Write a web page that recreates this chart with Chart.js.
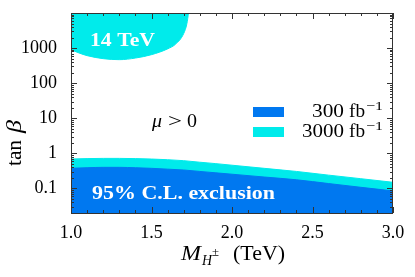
<!DOCTYPE html>
<html>
<head>
<meta charset="utf-8">
<script src="https://cdn.jsdelivr.net/npm/chart.js@4.4.0/dist/chart.umd.min.js"></script>
<style>
  html, body { margin: 0; padding: 0; background: #fff; }
</style>
</head>
<body>
<canvas id="myChart" width="415" height="277"></canvas>
<script>
/*  H+ exclusion reach  */

const massPoints = [1.0, 1.1, 1.2, 1.3, 1.4, 1.5, 1.6, 1.7, 1.8, 1.9, 2.0, 2.2, 2.4, 2.6, 2.8, 3.0];
const limit300 = [0.376, 0.39, 0.40, 0.40, 0.39, 0.375, 0.355, 0.336, 0.306, 0.279, 0.255, 0.212, 0.177, 0.138, 0.108, 0.085];
const limit3000 = [0.69, 0.71, 0.72, 0.72, 0.71, 0.69, 0.66, 0.62, 0.56, 0.51, 0.46, 0.375, 0.306, 0.24, 0.19, 0.15];
const highMass = [1.0, 1.05, 1.1, 1.2, 1.3, 1.4, 1.5, 1.6, 1.65, 1.7, 1.72, 1.73];
const highTanb = [900, 725, 610, 500, 468, 520, 650, 950, 1300, 2600, 5000, 10000];
const xTicks = [1.0, 1.5, 2.0, 2.5, 3.0];
const yTicks = [0.1, 1, 10, 100, 1000];

const blue = 'rgb(0, 120, 240)';
const cyan = 'rgb(0, 235, 235)';
const serif = '"Liberation Serif", "DejaVu Serif", serif';

const toPoints = (xs, ys) => xs.map((x, i) => ({ x: x, y: ys[i] }));

// draw text squeezed/stretched to a given width
function fitText(ctx, text, x, y, width) {
  const w = ctx.measureText(text).width;
  ctx.save();
  ctx.translate(x, y);
  ctx.scale(width / w, 1);
  ctx.textAlign = 'left';
  ctx.fillText(text, 0, 0);
  ctx.restore();
}

const frameAndTicks = {
  id: 'frameAndTicks',
  afterDatasetsDraw(chart) {
    const ctx = chart.ctx;
    const a = chart.chartArea;
    const xs = chart.scales.x, ys = chart.scales.y;
    ctx.save();
    ctx.strokeStyle = '#333';
    ctx.lineWidth = 1;
    ctx.beginPath();
    // x ticks, every 0.1, major every 0.5
    for (let i = 0; i <= 20; i++) {
      const v = 1 + i * 0.1;
      const px = Math.round(xs.getPixelForValue(v)) + 0.5;
      const len = (i % 5 === 0) ? 6 : 3;
      ctx.moveTo(px, a.bottom); ctx.lineTo(px, a.bottom - len);
      ctx.moveTo(px, a.top); ctx.lineTo(px, a.top + len);
    }
    // y ticks, decades and minors
    for (let d = -2; d <= 4; d++) {
      for (let k = 1; k <= 9; k++) {
        const v = k * Math.pow(10, d);
        if (v < 0.02 || v > 10000) continue;
        const py = Math.round(ys.getPixelForValue(v)) + 0.5;
        const len = (k === 1) ? 6 : 3;
        ctx.moveTo(a.left, py); ctx.lineTo(a.left + len, py);
        ctx.moveTo(a.right, py); ctx.lineTo(a.right - len, py);
      }
    }
    ctx.stroke();
    ctx.strokeRect(a.left + 0.5, a.top + 0.5, a.right - a.left - 1, a.bottom - a.top);
    ctx.restore();
  }
};

const labels = {
  id: 'labels',
  afterDraw(chart) {
    const ctx = chart.ctx;
    ctx.save();
    ctx.textBaseline = 'alphabetic';
    ctx.textAlign = 'left';

    // labels inside the plot
    ctx.fillStyle = '#fff';
    ctx.font = 'bold 18px ' + serif;
    fitText(ctx, '14 TeV', 90, 46, 65);
    ctx.font = 'bold 19px ' + serif;
    fitText(ctx, '95% C.L. exclusion', 92, 199, 183);

    ctx.fillStyle = '#000';
    ctx.font = 'italic 18px ' + serif;
    fitText(ctx, '\u03bc', 152, 127, 10);
    ctx.font = '18px ' + serif;
    fitText(ctx, '>', 168, 127, 14);
    fitText(ctx, '0', 187, 127, 10);

    // legend
    ctx.fillStyle = blue;
    ctx.fillRect(253, 107, 31, 10);
    ctx.fillStyle = cyan;
    ctx.fillRect(253, 127, 31, 10);
    ctx.fillStyle = '#000';
    [['300', 312, 117], ['3000', 302, 137]].forEach(([t, x, y]) => {
      ctx.font = '18px ' + serif;
      fitText(ctx, t, x, y, 365 - x - 21);
      fitText(ctx, 'fb', 349, y, 16);
      ctx.font = '13px ' + serif;
      fitText(ctx, '\u22121', 366, y - 7, 17);
    });

    // x title: M_{H±} (TeV)
    ctx.font = 'italic 20px ' + serif;
    fitText(ctx, 'M', 181, 260, 20);
    ctx.font = 'italic 14px ' + serif;
    fitText(ctx, 'H', 202, 265, 10);
    ctx.font = '12px ' + serif;
    fitText(ctx, '\u00b1', 212, 256, 7);
    ctx.font = '20px ' + serif;
    fitText(ctx, '(TeV)', 233, 260, 52);

    // y title: tan beta
    ctx.translate(21, 138);
    ctx.rotate(-Math.PI / 2);
    ctx.font = '20px ' + serif;
    fitText(ctx, 'tan', -28, 0, 26);
    ctx.font = 'italic 20px ' + serif;
    fitText(ctx, '\u03b2', 5, 0, 13);
    ctx.restore();
  }
};

const ctx = document.getElementById('myChart').getContext('2d');
const myChart = new Chart(ctx, {
  type: 'line',
  data: {
    datasets: [{
      label: '300 fb-1',
      data: toPoints(massPoints, limit300),
      fill: 'start',
      backgroundColor: blue,
      borderColor: blue,
      borderWidth: 1,
      pointRadius: 0,
      cubicInterpolationMode: 'monotone'
    }, {
      label: '3000 fb-1',
      data: toPoints(massPoints, limit3000),
      fill: 'start',
      backgroundColor: cyan,
      borderColor: cyan,
      borderWidth: 1,
      pointRadius: 0,
      cubicInterpolationMode: 'monotone'
    }, {
      label: '14 TeV',
      data: toPoints(highMass, highTanb),
      fill: 'end',
      backgroundColor: cyan,
      borderColor: cyan,
      borderWidth: 1,
      pointRadius: 0,
      cubicInterpolationMode: 'monotone'
    }]
  },
  options: {
    responsive: false,
    animation: false,
    layout: { padding: { left: 0, top: 13, right: 22, bottom: 0 } },
    plugins: {
      legend: { display: false },
      tooltip: { enabled: false }
    },
    scales: {
      x: {
        type: 'linear',
        min: 1,
        max: 3,
        afterBuildTicks: s => { s.ticks = xTicks.map(v => ({ value: v })); },
        afterFit: s => { s.height = 64; s.paddingLeft = 0; s.paddingRight = 0; },
        grid: { display: false, drawTicks: false },
        border: { display: false },
        ticks: {
          maxRotation: 0,
          padding: 9,
          color: '#000',
          font: { family: serif, size: 18 },
          callback: v => v.toFixed(1)
        }
      },
      y: {
        type: 'logarithmic',
        min: 0.02,
        max: 10000,
        afterBuildTicks: s => { s.ticks = yTicks.map(v => ({ value: v })); },
        afterFit: s => { s.width = 71; s.paddingTop = 0; s.paddingBottom = 0; },
        grid: { display: false, drawTicks: false },
        border: { display: false },
        ticks: {
          padding: 14,
          color: '#000',
          font: { family: serif, size: 18 },
          callback: v => String(v)
        }
      }
    }
  },
  plugins: [frameAndTicks, labels]
});
</script>
</body>
</html>
